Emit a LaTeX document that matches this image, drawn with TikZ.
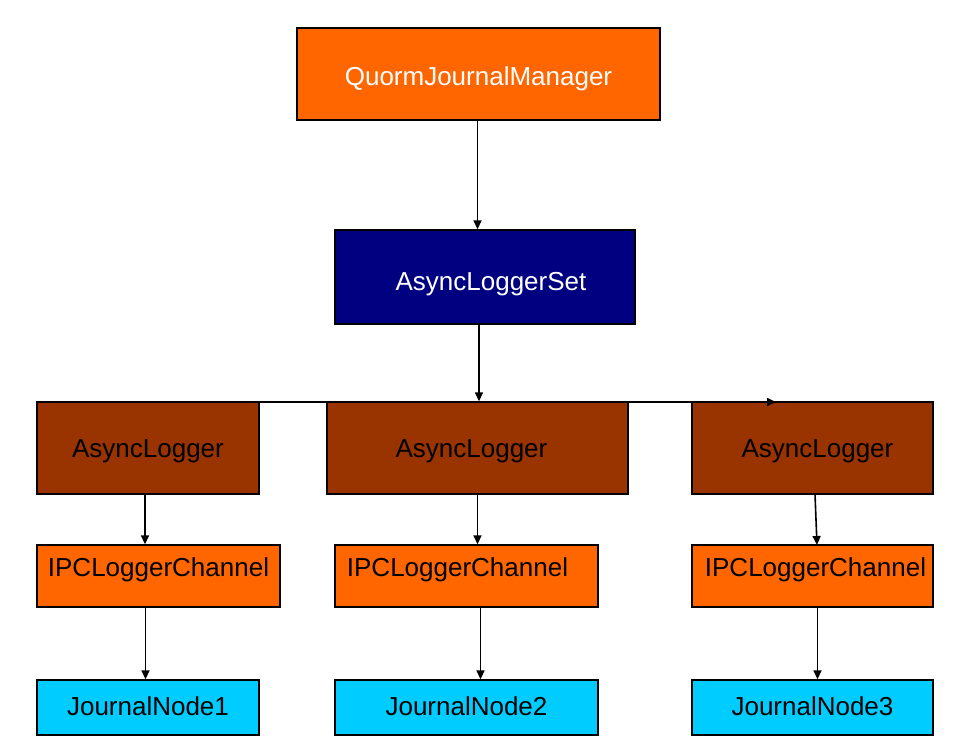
\documentclass[tikz,border=0pt]{standalone}
\usepackage{fontspec}
\setmainfont{Liberation Sans}
\usetikzlibrary{arrows.meta}
\definecolor{qorange}{HTML}{FF6600}
\definecolor{qnavy}{HTML}{000080}
\definecolor{qbrown}{HTML}{993300}
\definecolor{qcyan}{HTML}{00CCFF}
\tikzset{
  box/.style={draw=black, line width=1.4pt, inner sep=0pt},
  lbl/.style={inner sep=0pt, font=\fontsize{26}{30}\selectfont},
  conn/.style={draw=black, line width=1.6pt, -{Triangle[length=9pt,width=8pt]}},
}
% name, x1, y1, x2, y2, fill, textcolor, text, dx, dy
\newcommand{\bx}[9]{%
  \node[box, fill=#6, minimum width={(#4-#2)*1pt}, minimum height={(#5-#3)*1pt}] (#1) at ({(#2+#4)/2}, {(#3+#5)/2}) {};
  \bxtext{#1}{#7}{#8}{#9}%
}
\newcommand{\bxtext}[5]{%
  \node[lbl, text=#2] (#1-t) at ([shift={(#4,#5)}]#1.center) {#3};
}
\begin{document}
\begin{tikzpicture}[x=1pt, y=-1pt]
\useasboundingbox (0,0) rectangle (954,744);
\bx{qjm}{297}{28}{660}{120}{qorange}{white}{QuormJournalManager}{0}{5}
\bx{als}{335}{230}{635}{324}{qnavy}{white}{AsyncLoggerSet}{6}{7}
\bx{al1}{37}{402}{259}{494}{qbrown}{black}{AsyncLogger}{0}{3}
\bx{al2}{327}{402}{628}{494}{qbrown}{black}{AsyncLogger}{-6}{3}
\bx{al3}{692}{402}{933}{494}{qbrown}{black}{AsyncLogger}{5}{3}
\bx{ipc1}{37}{545}{280}{607}{qorange}{black}{IPCLoggerChannel}{0}{-6}
\bx{ipc2}{335}{545}{598}{607}{qorange}{black}{IPCLoggerChannel}{-9}{-6}
\bx{ipc3}{692}{545}{933}{607}{qorange}{black}{IPCLoggerChannel}{3}{-6}
\bx{jn1}{37}{680}{259}{735}{qcyan}{black}{JournalNode1}{0}{-1}
\bx{jn2}{335}{680}{598}{735}{qcyan}{black}{JournalNode2}{0}{-1}
\bx{jn3}{692}{680}{933}{735}{qcyan}{black}{JournalNode3}{0}{-1}
\coordinate (hs) at (259,402);
\coordinate (he) at (776,402);
\draw[conn] (hs) -- (he);
\draw[conn] (qjm.south) ++(-1,0) coordinate (a0) -- (als.north -| a0);
\draw[conn] (als.south) ++(-6,0) coordinate (a1) -- (al2.north -| a1);
\draw[conn] (al1.south) ++(-3,0) coordinate (b1) -- (ipc1.north -| b1);
\draw[conn] (al2.south) ++(0,0) coordinate (b2) -- (ipc2.north -| b2);
\draw[conn] (815,494) coordinate (b3) -- (817,545) coordinate (c3);
\draw[conn] (ipc1.south) ++(-13,0) coordinate (d1) -- (jn1.north -| d1);
\draw[conn] (ipc2.south) ++(14,0) coordinate (d2) -- (jn2.north -| d2);
\draw[conn] (ipc3.south) ++(5,0) coordinate (d3) -- (jn3.north -| d3);
\end{tikzpicture}
\end{document}
